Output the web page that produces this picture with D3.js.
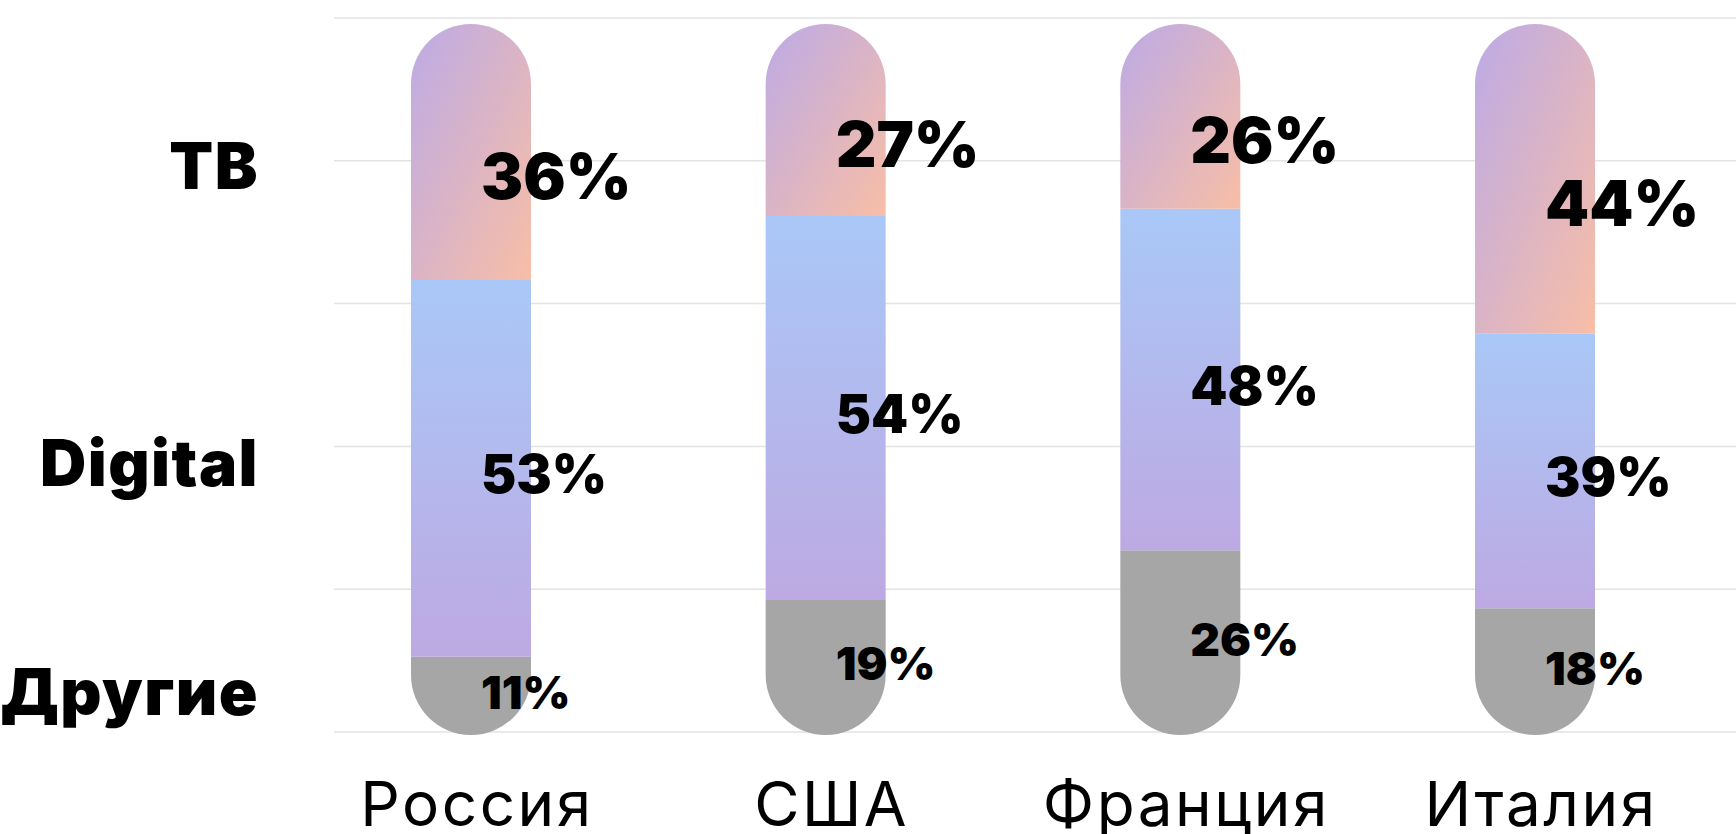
<!DOCTYPE html>
<html>
<head>
<meta charset="utf-8">
<script src="https://cdn.jsdelivr.net/npm/d3@7"></script>
<style>
  html, body { margin: 0; padding: 0; background: #fff; }
  svg { display: block; }
</style>
</head>
<body>
<svg id="chart" width="1736" height="834"></svg>
<script>
// countries along x, shares per media type (percent)
var countries = ["Россия", "США", "Франция", "Италия"];
var tvShare = [36, 27, 26, 44];
var digitalShare = [53, 54, 48, 39];
var otherShare = [11, 19, 26, 18];
var seriesKeys = ["other", "digital", "tv"];          // bottom -> top
var seriesLabels = ["ТВ", "Digital", "Другие"];
var gridTicks = [0, 20, 40, 60, 80, 100];

var W = 1736, H = 834;
var barW = 120, r = 60;
var boldFont = 'Inter, "DejaVu Sans", sans-serif';

var rows = countries.map(function(c, i){
	return {country: c, tv: tvShare[i], digital: digitalShare[i], other: otherShare[i]};
});

var svg = d3.select('#chart');

var x = d3.scalePoint().domain(countries).range([471, 1535]);
var y = d3.scaleLinear().domain([0, 1]).range([735, 24]);     // stacked, normalised
var yGrid = d3.scaleLinear().domain([0, 100]).range([732, 18]);

var defs = svg.append('defs');
var gTv = defs.append('linearGradient').attr('id', 'gradTv')
	.attr('x1', 0).attr('y1', 0).attr('x2', 1).attr('y2', 1);
gTv.append('stop').attr('offset', '0%').attr('stop-color', '#bcaae6');
gTv.append('stop').attr('offset', '100%').attr('stop-color', '#f8bea6');

var gDig = defs.append('linearGradient').attr('id', 'gradDigital')
	.attr('x1', 0).attr('y1', 0).attr('x2', 0).attr('y2', 1);
gDig.append('stop').attr('offset', '0%').attr('stop-color', '#a9c8f7');
gDig.append('stop').attr('offset', '100%').attr('stop-color', '#bda9e3');

var fills = {tv: 'url(#gradTv)', digital: 'url(#gradDigital)', other: '#a6a6a6'};

// grid lines
svg.append('g').selectAll('line')
	.data(gridTicks)
	.enter()
	.append('line')
	.attr('x1', 334).attr('x2', W)
	.attr('y1', function(d){ return yGrid(d); })
	.attr('y2', function(d){ return yGrid(d); })
	.attr('stroke', '#e3e3e3')
	.attr('stroke-width', 1.5);

var stack = d3.stack().keys(seriesKeys).offset(d3.stackOffsetExpand);
var layers = stack(rows);

// top segment gets a round top, bottom one a round bottom
function segPath(key, d){
	var x0 = x(d.data.country) - barW/2, x1 = x0 + barW;
	var yb = y(d[0]), yt = y(d[1]);
	if (key === 'tv') {
		return 'M' + x0 + ',' + yb + 'L' + x0 + ',' + (yt + r) +
			'A' + r + ',' + r + ' 0 0 1 ' + x1 + ',' + (yt + r) +
			'L' + x1 + ',' + yb + 'Z';
	}
	if (key === 'other') {
		return 'M' + x0 + ',' + yt + 'L' + x1 + ',' + yt + 'L' + x1 + ',' + (yb - r) +
			'A' + r + ',' + r + ' 0 0 1 ' + x0 + ',' + (yb - r) + 'Z';
	}
	return 'M' + x0 + ',' + yt + 'H' + x1 + 'V' + yb + 'H' + x0 + 'Z';
}

var layerG = svg.append('g').selectAll('g')
	.data(layers)
	.enter()
	.append('g');

layerG.selectAll('path')
	.data(function(l){ return l.map(function(d){ d.key = l.key; return d; }); })
	.enter()
	.append('path')
	.attr('d', function(d){ return segPath(d.key, d); })
	.attr('fill', function(d){ return fills[d.key]; });

// value labels
var labelStyle = {
	tv: {size: 63, dy: 47},
	digital: {size: 53, dy: 25},
	other: {size: 46, dy: 13}
};

layerG.selectAll('text')
	.data(function(l){ return l; })
	.enter()
	.append('text')
	.attr('x', function(d){ return x(d.data.country) + 10; })
	.attr('y', function(d){ return (y(d[0]) + y(d[1]))/2 + labelStyle[d.key].dy; })
	.attr('font-family', boldFont)
	.attr('font-weight', 900)
	.attr('font-size', function(d){ return labelStyle[d.key].size; })
	.attr('fill', '#000')
	.text(function(d){ return d.data[d.key] + '%'; });

// series names on the left
var nameBaselines = [189, 486, 715];
svg.append('g').selectAll('text')
	.data(seriesLabels)
	.enter()
	.append('text')
	.attr('x', 259)
	.attr('y', function(d, i){ return nameBaselines[i]; })
	.attr('text-anchor', 'end')
	.attr('font-family', boldFont)
	.attr('font-weight', 900)
	.attr('font-size', 64)
	.attr('letter-spacing', 1.5)
	.attr('fill', '#000')
	.text(function(d){ return d; });

// country axis
svg.append('g').selectAll('text')
	.data(countries)
	.enter()
	.append('text')
	.attr('x', function(d){ return x(d) + 6; })
	.attr('y', 826)
	.attr('text-anchor', 'middle')
	.attr('font-family', 'Inter, sans-serif')
	.attr('font-size', 62)
	.attr('letter-spacing', 2.5)
	.attr('fill', '#000')
	.text(function(d){ return d; });
</script>
</body>
</html>
